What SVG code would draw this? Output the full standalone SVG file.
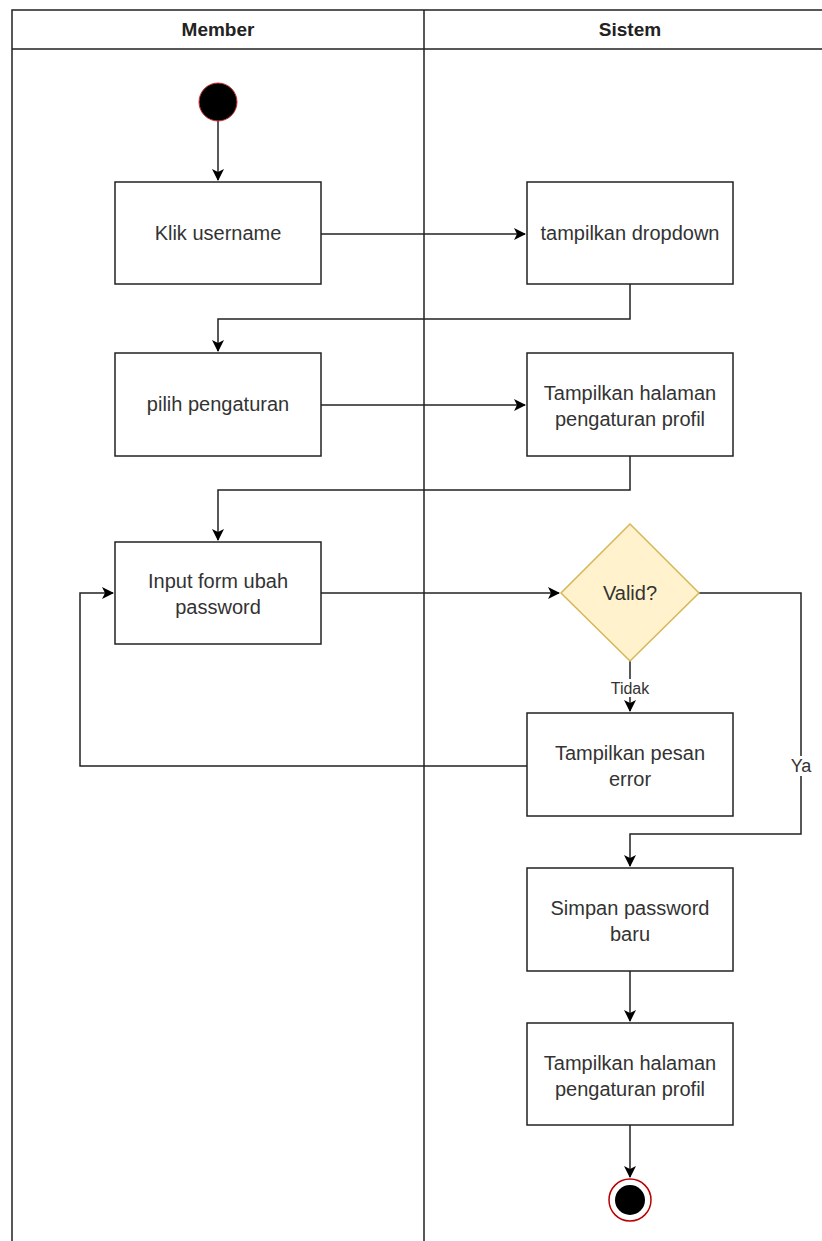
<svg xmlns="http://www.w3.org/2000/svg" width="822" height="1241" viewBox="0 0 822 1241">
<defs>
<marker id="arr" markerWidth="12" markerHeight="12" refX="11" refY="6" orient="auto" markerUnits="userSpaceOnUse">
<path d="M0,0 L12,6 L0,12 L3,6 Z" fill="#000"/>
</marker>
<style>
.box{fill:#fff;stroke:#222;stroke-width:1.5}
.t{font-family:"Liberation Sans",Arial,sans-serif;font-size:20px;fill:#333;text-anchor:middle}
.h{font-family:"Liberation Sans",Arial,sans-serif;font-size:19px;font-weight:bold;fill:#222;text-anchor:middle}
.c{fill:none;stroke:#222;stroke-width:1.5}
.lane{fill:none;stroke:#222;stroke-width:1.5}
</style>
</defs>
<rect width="822" height="1241" fill="#fff"/>
<g id="swimlanes">
<path class="lane" d="M12,1241 V10 H822 M12,49 H822 M424,10 V1241"/>
<text class="h" x="218" y="36">Member</text>
<text class="h" x="630" y="36">Sistem</text>
</g>
<g id="connectors">
<path class="c" d="M218,121 V180" marker-end="url(#arr)"/>
<path class="c" d="M321,234 H525" marker-end="url(#arr)"/>
<path class="c" d="M630,284 V319 H218 V351" marker-end="url(#arr)"/>
<path class="c" d="M321,405 H525" marker-end="url(#arr)"/>
<path class="c" d="M630,456 V490 H218 V540" marker-end="url(#arr)"/>
<path class="c" d="M321,593 H559" marker-end="url(#arr)"/>
<path class="c" d="M630,661 V711" marker-end="url(#arr)"/>
<path class="c" d="M699,593 H801 V834 H630 V866" marker-end="url(#arr)"/>
<path class="c" d="M527,766 H80 V593 H113" marker-end="url(#arr)"/>
<path class="c" d="M630,971 V1021" marker-end="url(#arr)"/>
<path class="c" d="M630,1125 V1177" marker-end="url(#arr)"/>
<rect x="604" y="679" width="52" height="18" fill="#fff"/>
<text class="t" x="630" y="694" style="font-size:16px">Tidak</text>
<rect x="789" y="756" width="24" height="20" fill="#fff"/>
<text class="t" x="801" y="772" style="font-size:18px">Ya</text>
</g>
<g id="start"><circle cx="218" cy="102" r="19" fill="#000" stroke="#c33" stroke-width="1"/></g>
<g id="klik"><rect class="box" x="115" y="182" width="206" height="102"/><text class="t" x="218" y="240">Klik username</text></g>
<g id="dropdown"><rect class="box" x="527" y="182" width="206" height="102"/><text class="t" x="630" y="240">tampilkan dropdown</text></g>
<g id="pilih"><rect class="box" x="115" y="353" width="206" height="103"/><text class="t" x="218" y="411">pilih pengaturan</text></g>
<g id="tampil1"><rect class="box" x="527" y="353" width="206" height="103"/><text class="t" x="630" y="400">Tampilkan halaman</text><text class="t" x="630" y="426">pengaturan profil</text></g>
<g id="input"><rect class="box" x="115" y="542" width="206" height="102"/><text class="t" x="218" y="588">Input form ubah</text><text class="t" x="218" y="614">password</text></g>
<g id="valid"><polygon points="630,524 699,593 630,661 561,593" fill="#fff2cc" stroke="#d6b656" stroke-width="1.5"/><text class="t" x="630" y="600">Valid?</text></g>
<g id="error"><rect class="box" x="527" y="713" width="206" height="103"/><text class="t" x="630" y="760">Tampilkan pesan</text><text class="t" x="630" y="786">error</text></g>
<g id="simpan"><rect class="box" x="527" y="868" width="206" height="103"/><text class="t" x="630" y="915">Simpan password</text><text class="t" x="630" y="941">baru</text></g>
<g id="tampil2"><rect class="box" x="527" y="1023" width="206" height="102"/><text class="t" x="630" y="1070">Tampilkan halaman</text><text class="t" x="630" y="1096">pengaturan profil</text></g>
<g id="end"><circle cx="630" cy="1200" r="21" fill="#fff" stroke="#b00" stroke-width="1.5"/><circle cx="630" cy="1200" r="15" fill="#000"/></g>
</svg>
